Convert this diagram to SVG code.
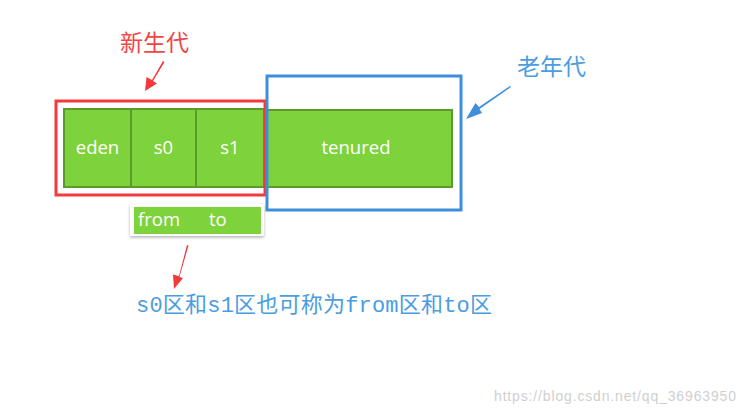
<svg xmlns="http://www.w3.org/2000/svg" width="746" height="416" viewBox="0 0 746 416">
<style>
.cell{fill:#7ed23b;stroke:#5c9a2b;stroke-width:2}
.lbl{font-family:"Open Sans","Noto Sans",sans-serif;font-size:18.5px;fill:#ffffff;text-anchor:middle}
.cjk{font-family:"Noto Sans CJK SC",sans-serif;font-size:23px}
</style>
<defs>
<filter id="sh" x="-10%" y="-20%" width="120%" height="150%">
<feDropShadow dx="0" dy="1.5" stdDeviation="1.5" flood-color="#000" flood-opacity="0.3"/>
</filter>
</defs>
<rect width="746" height="416" fill="#ffffff"/>
<g id="eden"><rect class="cell" x="64" y="109" width="67" height="78"/><text class="lbl" x="97.5" y="154">eden</text></g>
<g id="s0"><rect class="cell" x="131" y="109" width="65" height="78"/><text class="lbl" x="163.5" y="154">s0</text></g>
<g id="s1"><rect class="cell" x="196" y="109" width="68" height="78"/><text class="lbl" x="230" y="154">s1</text></g>
<g id="tenured"><rect class="cell" x="264" y="110" width="188" height="77"/><text class="lbl" x="356" y="154">tenured</text></g>
<g id="young-box"><rect x="56" y="101" width="209" height="94" fill="none" stroke="#f23a3a" stroke-width="3"/></g>
<g id="old-box"><rect x="267" y="76" width="194" height="134" fill="none" stroke="#3d8fdc" stroke-width="3"/></g>
<g id="fromto">
<rect x="130" y="204" width="134" height="32" fill="#ffffff" filter="url(#sh)"/>
<rect x="134" y="207" width="127" height="27" fill="#7ed23b"/>
<text x="138" y="226" font-family="'Open Sans','Noto Sans',sans-serif" font-size="18.5" fill="#fff">from</text>
<text x="209" y="226" font-family="'Open Sans','Noto Sans',sans-serif" font-size="18.5" fill="#fff">to</text>
</g>
<g id="label-young"><text class="cjk" x="120" y="51" fill="#f24545">新生代</text></g>
<g id="label-old"><text class="cjk" x="517" y="75" fill="#4a9de0">老年代</text></g>
<g id="label-note"><text x="136" y="312" font-family="'Liberation Mono','Noto Sans CJK SC',monospace" font-size="22" fill="#4a9de0" textLength="356">s0区和s1区也可称为from区和to区</text></g>
<g id="connectors">
<path d="M163,61 L152,80 L146.5,77 L145,91 L157,83.5 L153,81 L164.5,62 Z" fill="#f23a3a"/>
<path d="M510,86 L479,107 L475.5,103 L466,119 L482,113 L479.5,109 L511,87 Z" fill="#3d8fdc"/>
<path d="M187,245 L179,276 L173,274.5 L174,289 L183,278 L179.5,277 L188.5,245.5 Z" fill="#f23a3a"/>
</g>
<text x="494" y="401" font-family="'Liberation Sans',sans-serif" font-size="14" fill="#d0d0d0" textLength="242">https://blog.csdn.net/qq_36963950</text>
</svg>
